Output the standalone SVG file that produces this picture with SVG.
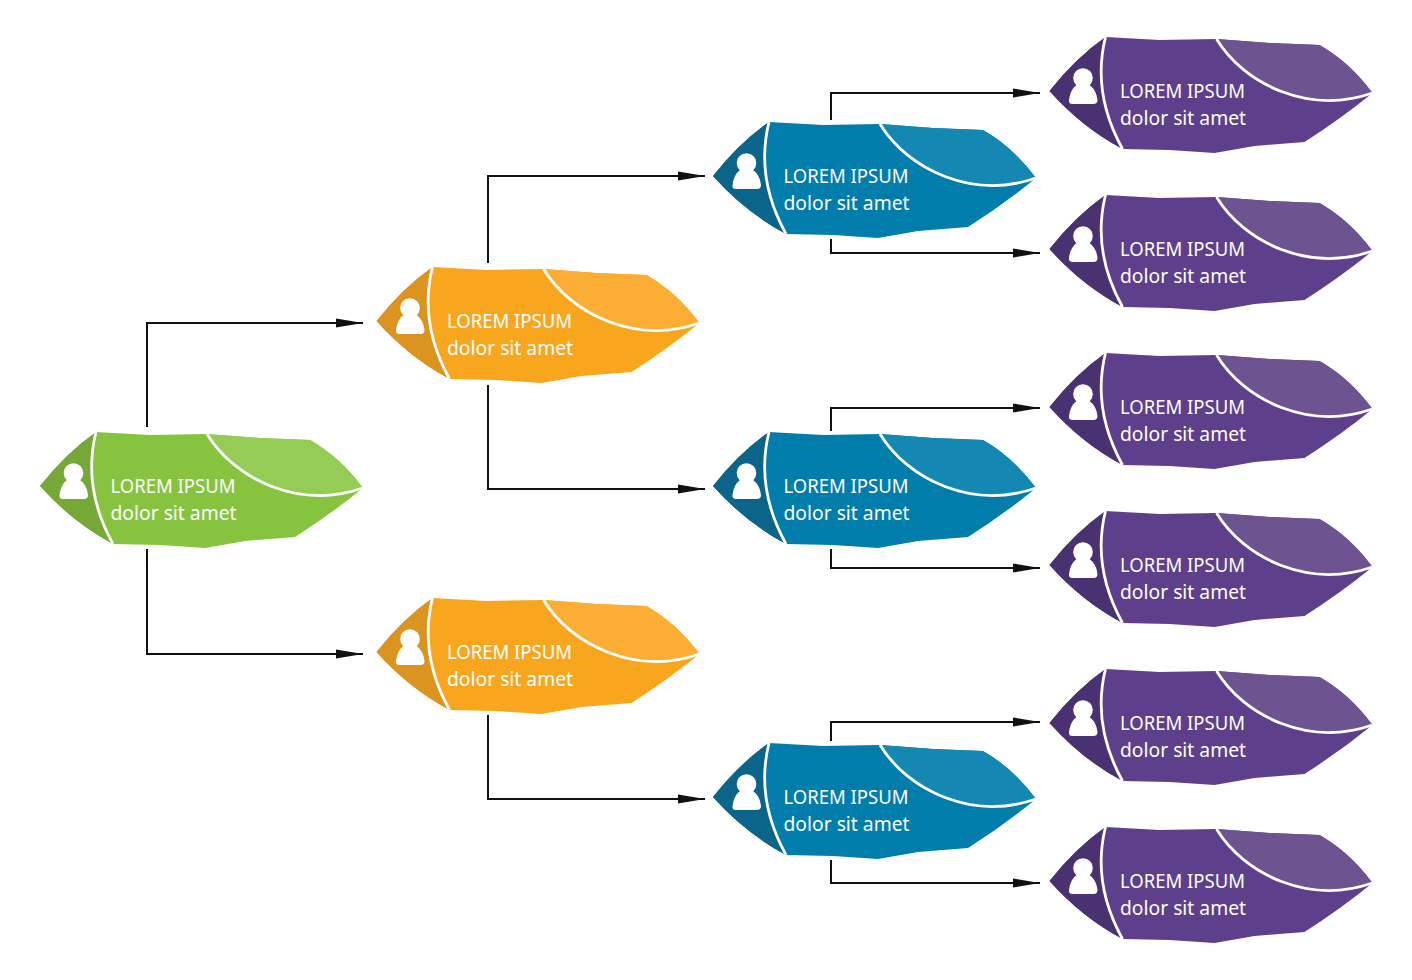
<svg xmlns="http://www.w3.org/2000/svg" xmlns:xlink="http://www.w3.org/1999/xlink" width="1412" height="980" viewBox="0 0 1412 980">
<style>
.c{fill:none;stroke:#111;stroke-width:2;marker-end:url(#a)}
.t{font-family:"Noto Sans","Open Sans",sans-serif;font-size:20px;fill:#fff}
.l{fill:none;stroke:#fff;stroke-width:2.800}
.green{--m:#86c440;--d:#76a838;--h:#94cc56}
.orange{--m:#f9a61f;--d:#dc9420;--h:#fbae33}
.blue{--m:#007dab;--d:#0b6489;--h:#1488b3}
.purple{--m:#5e3f8b;--d:#4a3272;--h:#6d5490}
.m{fill:var(--m)}.d{fill:var(--d)}.h{fill:var(--h)}
</style>
<defs>
<marker id="a" markerUnits="userSpaceOnUse" markerWidth="28" markerHeight="12" refX="27" refY="5" orient="auto"><path d="M0 .5L27 5L0 9.500Z" fill="#111"/></marker>
<g id="shape">
<path class="m" d="M10 66Q36 33 66 12L120 15L177 14L230 18L280 20Q310 37 333 68Q301 94 265 117L215 121L175 128L130 125L83 124Q42 102 10 66Z"/>
<path class="d" d="M10 66Q36 33 66 12Q52 68 83 124Q42 102 10 66Z"/>
<path class="h" d="M177 14L230 18L280 20Q310 37 333 68C270 90 205 60 177 14Z"/>
<path class="l" d="M66 12Q52 68 83 124M177 14C205 60 270 90 333 68"/>
<circle cx="43.500" cy="53" r="9.800" fill="#fff"/>
<path d="M33 79Q29 79 29.500 75Q30.500 65 37 60L50 60Q57 65 58 75Q58 79 54 79Z" fill="#fff"/>
</g>
</defs>
<g id="connectors">
<path class="c" d="M147 427V323H363"/>
<path class="c" d="M147 549V654H363"/>
<path class="c" d="M488 263V176H705"/>
<path class="c" d="M488 385V489H705"/>
<path class="c" d="M488 715V799H705"/>
<path class="c" d="M831 120V93H1040"/>
<path class="c" d="M831 239V253H1040"/>
<path class="c" d="M831 431V408H1040"/>
<path class="c" d="M831 549V568H1040"/>
<path class="c" d="M831 741V722H1040"/>
<path class="c" d="M831 860V883H1040"/>
</g>
<g id="node-root" class="green" transform="translate(30 420)"><use href="#shape"/><text class="t" x="80.500" y="72.500" textLength="125" lengthAdjust="spacingAndGlyphs">LOREM IPSUM</text><text class="t" x="80.500" y="99.500" textLength="126" lengthAdjust="spacingAndGlyphs">dolor sit amet</text></g>
<g id="node-o1" class="orange" transform="translate(366.500 255)"><use href="#shape"/><text class="t" x="80.500" y="72.500" textLength="125" lengthAdjust="spacingAndGlyphs">LOREM IPSUM</text><text class="t" x="80.500" y="99.500" textLength="126" lengthAdjust="spacingAndGlyphs">dolor sit amet</text></g>
<g id="node-o2" class="orange" transform="translate(366.500 586)"><use href="#shape"/><text class="t" x="80.500" y="72.500" textLength="125" lengthAdjust="spacingAndGlyphs">LOREM IPSUM</text><text class="t" x="80.500" y="99.500" textLength="126" lengthAdjust="spacingAndGlyphs">dolor sit amet</text></g>
<g id="node-b1" class="blue" transform="translate(703 110)"><use href="#shape"/><text class="t" x="80.500" y="72.500" textLength="125" lengthAdjust="spacingAndGlyphs">LOREM IPSUM</text><text class="t" x="80.500" y="99.500" textLength="126" lengthAdjust="spacingAndGlyphs">dolor sit amet</text></g>
<g id="node-b2" class="blue" transform="translate(703 420)"><use href="#shape"/><text class="t" x="80.500" y="72.500" textLength="125" lengthAdjust="spacingAndGlyphs">LOREM IPSUM</text><text class="t" x="80.500" y="99.500" textLength="126" lengthAdjust="spacingAndGlyphs">dolor sit amet</text></g>
<g id="node-b3" class="blue" transform="translate(703 731)"><use href="#shape"/><text class="t" x="80.500" y="72.500" textLength="125" lengthAdjust="spacingAndGlyphs">LOREM IPSUM</text><text class="t" x="80.500" y="99.500" textLength="126" lengthAdjust="spacingAndGlyphs">dolor sit amet</text></g>
<g id="node-p1" class="purple" transform="translate(1039.500 25)"><use href="#shape"/><text class="t" x="80.500" y="72.500" textLength="125" lengthAdjust="spacingAndGlyphs">LOREM IPSUM</text><text class="t" x="80.500" y="99.500" textLength="126" lengthAdjust="spacingAndGlyphs">dolor sit amet</text></g>
<g id="node-p2" class="purple" transform="translate(1039.500 183)"><use href="#shape"/><text class="t" x="80.500" y="72.500" textLength="125" lengthAdjust="spacingAndGlyphs">LOREM IPSUM</text><text class="t" x="80.500" y="99.500" textLength="126" lengthAdjust="spacingAndGlyphs">dolor sit amet</text></g>
<g id="node-p3" class="purple" transform="translate(1039.500 341)"><use href="#shape"/><text class="t" x="80.500" y="72.500" textLength="125" lengthAdjust="spacingAndGlyphs">LOREM IPSUM</text><text class="t" x="80.500" y="99.500" textLength="126" lengthAdjust="spacingAndGlyphs">dolor sit amet</text></g>
<g id="node-p4" class="purple" transform="translate(1039.500 499)"><use href="#shape"/><text class="t" x="80.500" y="72.500" textLength="125" lengthAdjust="spacingAndGlyphs">LOREM IPSUM</text><text class="t" x="80.500" y="99.500" textLength="126" lengthAdjust="spacingAndGlyphs">dolor sit amet</text></g>
<g id="node-p5" class="purple" transform="translate(1039.500 657)"><use href="#shape"/><text class="t" x="80.500" y="72.500" textLength="125" lengthAdjust="spacingAndGlyphs">LOREM IPSUM</text><text class="t" x="80.500" y="99.500" textLength="126" lengthAdjust="spacingAndGlyphs">dolor sit amet</text></g>
<g id="node-p6" class="purple" transform="translate(1039.500 815)"><use href="#shape"/><text class="t" x="80.500" y="72.500" textLength="125" lengthAdjust="spacingAndGlyphs">LOREM IPSUM</text><text class="t" x="80.500" y="99.500" textLength="126" lengthAdjust="spacingAndGlyphs">dolor sit amet</text></g>
</svg>
